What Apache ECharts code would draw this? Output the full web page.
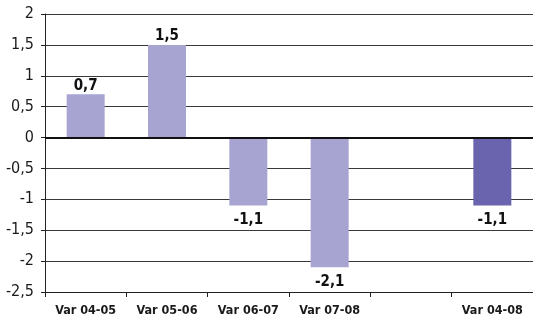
<!DOCTYPE html>
<html>
<head>
<meta charset="utf-8">
<style>
  html, body { margin: 0; padding: 0; background: #fff; }
  #chart { width: 533px; height: 321px; }
</style>
<script src="https://cdn.jsdelivr.net/npm/echarts@6/dist/echarts.min.js"></script>
</head>
<body>
<div id="chart"></div>
<script>
// Year-on-year variations and the overall 2004-2008 variation
const categories = ['Var 04-05', 'Var 05-06', 'Var 06-07', 'Var 07-08', '', 'Var 04-08'];
const values = [0.7, 1.5, -1.1, -2.1, null, -1.1];
const barColors = ['#a7a4d2', '#a7a4d2', '#a7a4d2', '#a7a4d2', '#a7a4d2', '#6a63ad'];
const yMin = -2.5, yMax = 2, yStep = 0.5;

const FONT = '"DejaVu Sans Condensed", "Liberation Sans", sans-serif';
const fmt = v => String(v).replace('.', ',');

const chart = echarts.init(document.getElementById('chart'), null, { renderer: 'canvas' });
chart.setOption({
  animation: false,
  backgroundColor: '#ffffff',
  grid: { left: 45, top: 14, width: 491, height: 278, containLabel: false },
  xAxis: {
    type: 'category',
    data: categories,
    axisLine: { show: true, onZero: false, lineStyle: { color: '#222', width: 1 } },
    axisTick: { show: true, length: 5, lineStyle: { color: '#222' } },
    axisLabel: { interval: 0, color: '#1a1a1a', fontFamily: FONT, fontWeight: 'bold', fontSize: 12.5, margin: 12 },
    splitLine: { show: false }
  },
  yAxis: {
    type: 'value',
    min: yMin, max: yMax, interval: yStep,
    axisLine: { show: true, lineStyle: { color: '#222', width: 1 } },
    axisTick: { show: true, length: 4, lineStyle: { color: '#222' } },
    axisLabel: { color: '#1a1a1a', fontFamily: FONT, fontSize: 16, margin: 11, formatter: v => fmt(v) },
    splitLine: { show: true, lineStyle: { color: '#3a3a3a', width: 1 } }
  },
  series: [{
    type: 'bar',
    data: values.map((v, i) => ({
      value: v,
      itemStyle: { color: barColors[i] },
      label: { distance: v != null && v < 0 ? 7 : 1 }
    })),
    barWidth: 38,
    label: {
      show: true,
      position: 'outside',
      color: '#111',
      fontFamily: FONT,
      fontWeight: 'bold',
      fontSize: 15,
      formatter: p => p.value == null ? '' : fmt(p.value)
    },
    markLine: {
      silent: true,
      symbol: 'none',
      label: { show: false },
      lineStyle: { color: '#111', width: 2, type: 'solid' },
      data: [{ yAxis: 0 }]
    }
  }]
});
</script>
</body>
</html>
